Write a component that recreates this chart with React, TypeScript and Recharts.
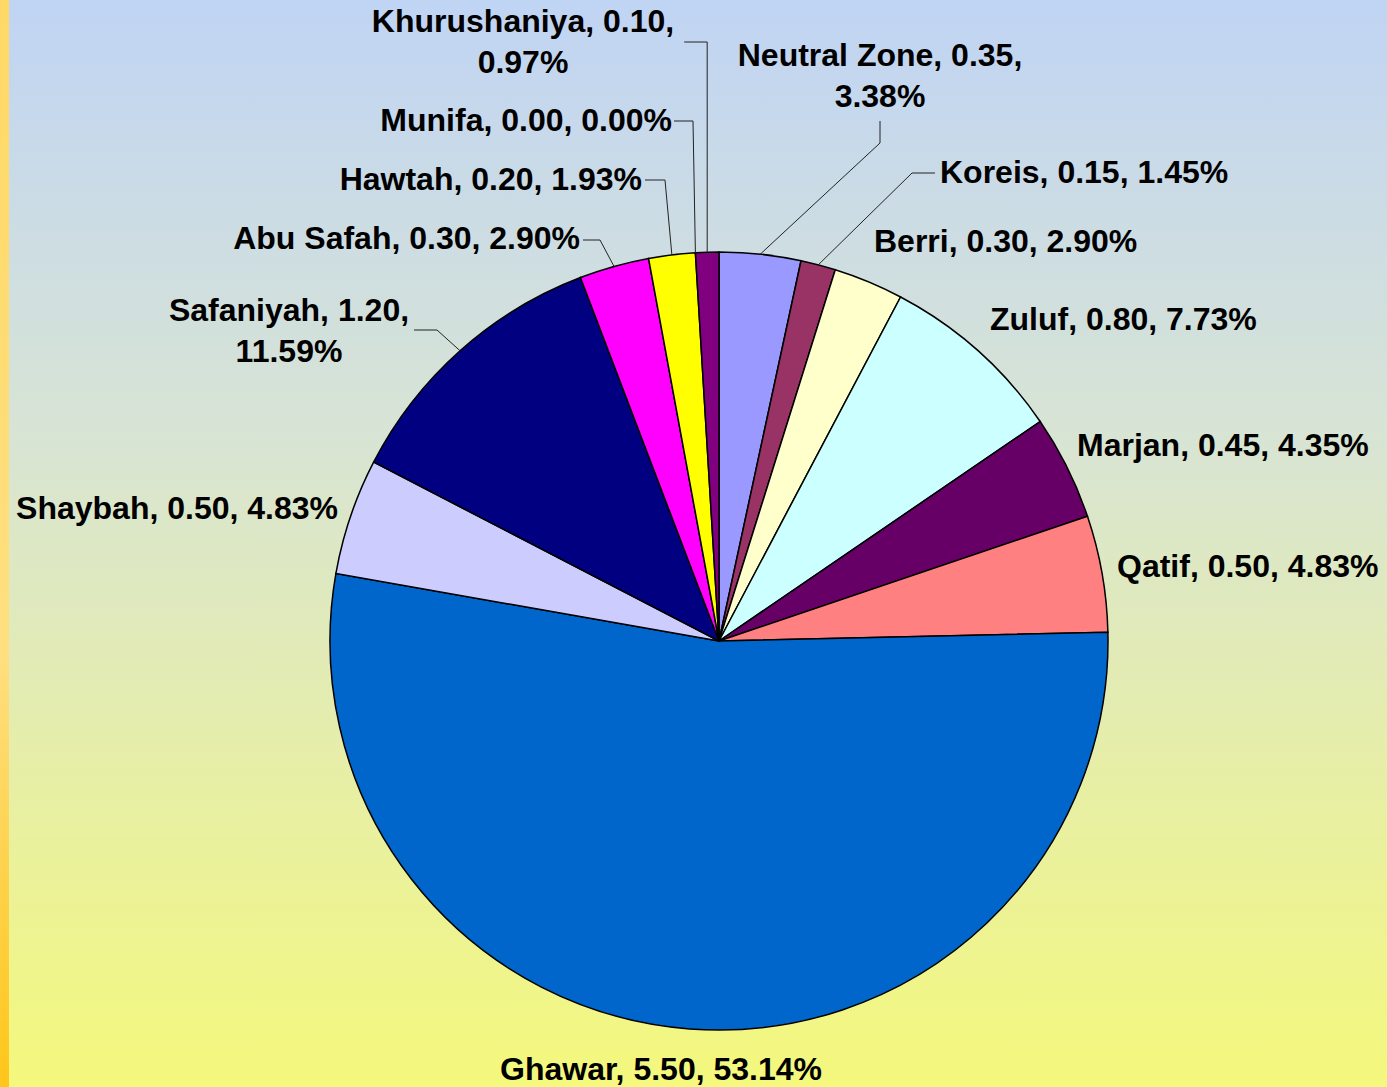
import { Pie, PieChart, Cell } from 'recharts'

// Saudi fields, clockwise from 12 o'clock
const fields = [
  'Neutral Zone',
  'Koreis',
  'Berri',
  'Zuluf',
  'Marjan',
  'Qatif',
  'Ghawar',
  'Shaybah',
  'Safaniyah',
  'Abu Safah',
  'Hawtah',
  'Munifa',
  'Khurushaniya',
]
const output = [0.35, 0.15, 0.3, 0.8, 0.45, 0.5, 5.5, 0.5, 1.2, 0.3, 0.2, 0.0, 0.1]
const sliceColors = [
  '#9999ff',
  '#993366',
  '#ffffcc',
  '#ccffff',
  '#660066',
  '#ff8080',
  '#0066cc',
  '#ccccff',
  '#000080',
  '#ff00ff',
  '#ffff00',
  '#00ffff',
  '#800080',
]

const data = fields.map((name, i) => ({ name, value: output[i] }))
const total = output.reduce((a, b) => a + b, 0)

const W = 1387
const H = 1087
const CX = 719
const CY = 641
const R = 389

type LabelLayout = {
  x: number
  y: number
  anchor: 'start' | 'middle' | 'end'
  wrap?: boolean
  path?: Array<[number, number]>
}

// where each label sits, plus elbow points of its leader line
const labelLayout: Record<string, LabelLayout> = {
  'Neutral Zone': { x: 880, y: 66, anchor: 'middle', wrap: true, path: [[880, 143], [880, 121]] },
  Koreis: { x: 940, y: 183, anchor: 'start', path: [[912, 173], [935, 173]] },
  Berri: { x: 874, y: 252, anchor: 'start' },
  Zuluf: { x: 990, y: 330, anchor: 'start' },
  Marjan: { x: 1077, y: 456, anchor: 'start' },
  Qatif: { x: 1117, y: 577, anchor: 'start' },
  Ghawar: { x: 661, y: 1080, anchor: 'middle' },
  Shaybah: { x: 338, y: 519, anchor: 'end' },
  Safaniyah: { x: 289, y: 321, anchor: 'middle', wrap: true, path: [[437, 330], [414, 330]] },
  'Abu Safah': { x: 580, y: 249, anchor: 'end', path: [[600, 240], [583, 240]] },
  Hawtah: { x: 642, y: 190, anchor: 'end', path: [[665, 180], [645, 180]] },
  Munifa: { x: 672, y: 131, anchor: 'end', path: [[693, 121], [674, 121]] },
  Khurushaniya: { x: 523, y: 32, anchor: 'middle', wrap: true, path: [[-1, 42], [-24, 42]] },
}

const RAD = Math.PI / 180

function renderLabel(props: any) {
  const { cx, cy, midAngle, outerRadius, index } = props
  const name = fields[index]
  const value = output[index]
  const pct = ((value / total) * 100).toFixed(2)
  const lay = labelLayout[name]
  const ex = cx + outerRadius * Math.cos(-midAngle * RAD)
  const ey = cy + outerRadius * Math.sin(-midAngle * RAD)
  let line = null
  if (lay.path) {
    // negative x in the path means "relative to the slice edge" (vertical leader)
    const pts = lay.path.map(([px, py]) => [px < 0 ? ex + px + 1 : px, py])
    const d = `M${ex},${ey} ` + pts.map(([px, py]) => `L${px},${py}`).join(' ')
    line = <path d={d} fill="none" stroke="#222" strokeWidth={1} />
  }
  const first = `${name}, ${value.toFixed(2)},`
  const second = `${pct}%`
  return (
    <g key={`lbl-${index}`}>
      {line}
      <text
        x={lay.x}
        y={lay.y}
        textAnchor={lay.anchor}
        fill="#000"
        fontSize={32}
        fontWeight="bold"
        fontFamily="'Liberation Sans', Arial, sans-serif"
      >
        {lay.wrap ? (
          <>
            <tspan x={lay.x}>{first}</tspan>
            <tspan x={lay.x} dy={41}>
              {second}
            </tspan>
          </>
        ) : (
          `${first} ${second}`
        )}
      </text>
    </g>
  )
}

export default function App() {
  return (
    <div
      style={{
        position: 'fixed',
        left: 0,
        top: 0,
        width: W,
        height: H,
        background: 'linear-gradient(to bottom, #c0d4f4 0%, #d8e4d4 40%, #f4f87c 100%)',
      }}
    >
      <div
        style={{
          position: 'absolute',
          left: 0,
          top: 0,
          width: 9,
          height: H,
          background: 'linear-gradient(to bottom, #ffd966, #ffdf80 60%, #ffc61a)',
        }}
      />
      <div style={{ position: 'absolute', left: 0, top: 0 }}>
        <PieChart width={W} height={H} margin={{ top: 0, right: 0, bottom: 0, left: 0 }}>
          <Pie
            data={data}
            dataKey="value"
            nameKey="name"
            cx={CX}
            cy={CY}
            outerRadius={R}
            startAngle={90}
            endAngle={-270}
            stroke="#000"
            strokeWidth={1.5}
            labelLine={false}
            label={renderLabel}
            isAnimationActive={false}
          >
            {data.map((entry, i) => (
              <Cell key={entry.name} fill={sliceColors[i]} />
            ))}
          </Pie>
        </PieChart>
      </div>
    </div>
  )
}
